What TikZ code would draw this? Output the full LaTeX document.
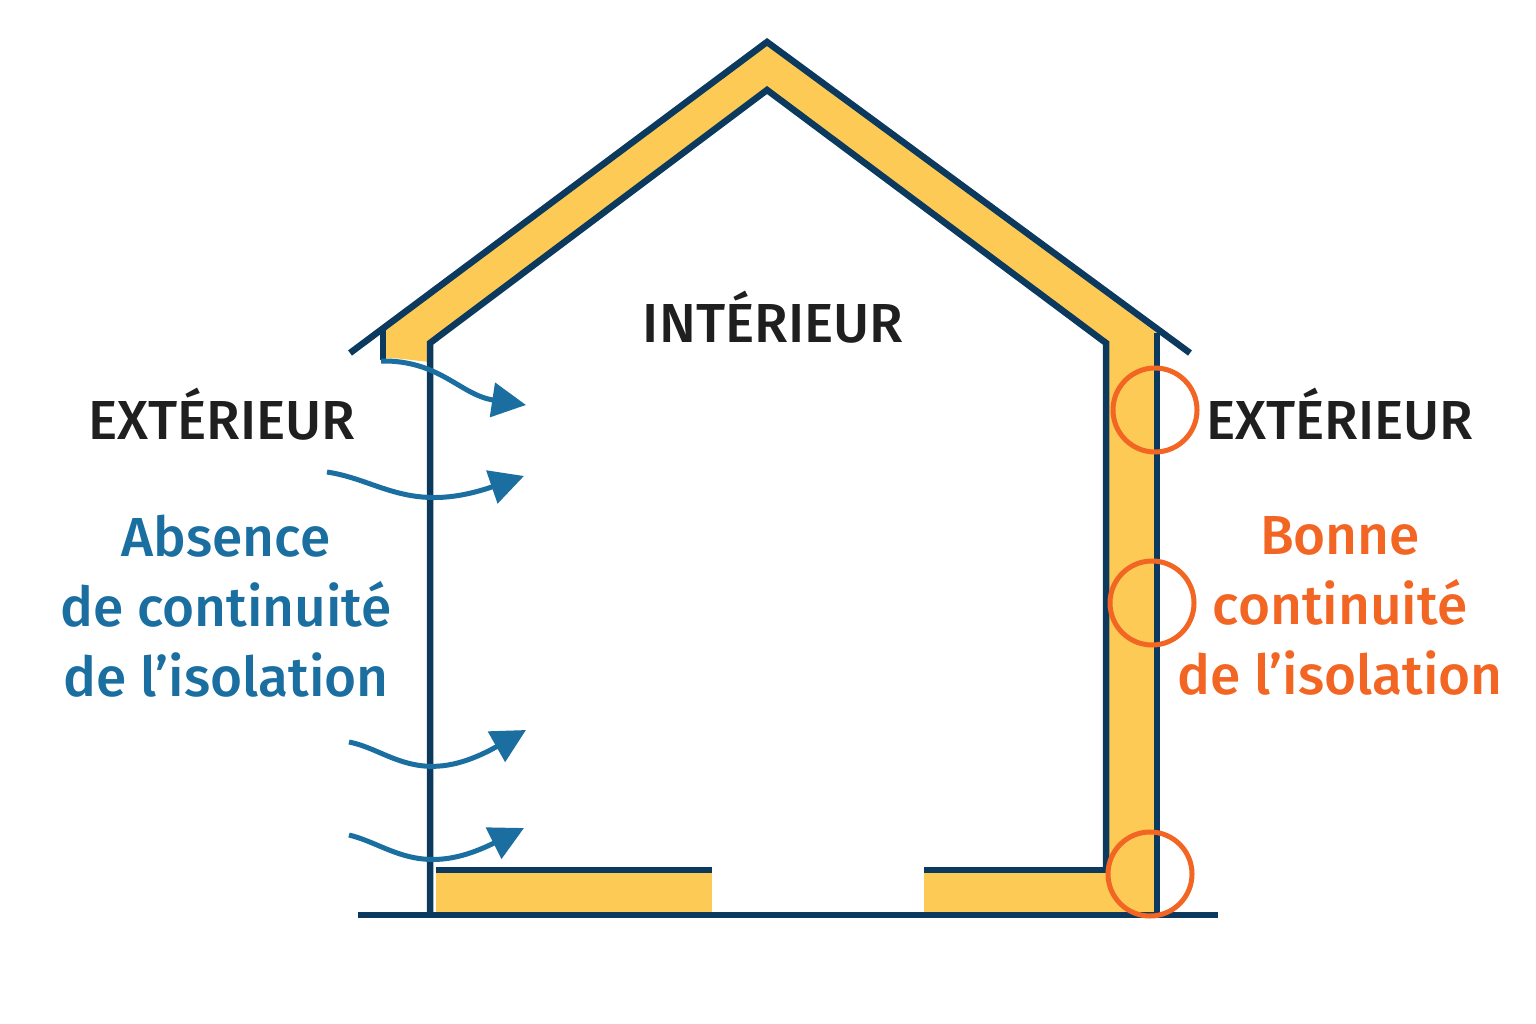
\documentclass[tikz,border=0pt]{standalone}
\usepackage{fontspec}
\setmainfont{Fira Sans}[UprightFont=* Medium]
\usetikzlibrary{arrows.meta}
\definecolor{navy}{HTML}{0B3A5E}
\definecolor{ins}{HTML}{FDCB55}
\definecolor{blu}{HTML}{1A6FA0}
\definecolor{ora}{HTML}{F26522}
\tikzset{wall/.style={draw=navy,line width=6.5pt},
 flow/.style={draw=blu,line width=5pt,-{Triangle[length=34pt,width=34pt]}},
 ring/.style={draw=ora,line width=5pt},
 lbl/.style={font=\fontsize{55}{62}\selectfont,align=center,inner sep=0pt}}
\begin{document}
\begin{tikzpicture}[x=1pt,y=-1pt]
\useasboundingbox (0,0) rectangle (1536,1024);
\fill[white] (0,0) rectangle (1536,1024);
% insulation
\fill[ins] (383,328)--(767,40)--(1157,333)--(1157,912)--(1106,912)--(1106,343)--(767,90)--(430,343)--(430,362) to[out=175,in=0] (383,358)--cycle;
\fill[ins] (436,872) rectangle (712,912);
\fill[ins] (924,872) rectangle (1106,912);
% walls
\draw[wall] (350,353)--(767,42)--(1190,353);
\draw[wall] (430,917)--(430,343)--(767,90)--(1106,343)--(1106,870);
\draw[wall] (383,330)--(383,360);
\draw[wall] (1157,333)--(1157,915);
\draw[wall] (436,870)--(712,870);
\draw[wall] (924,870)--(1106,870);
\draw[wall] (358,915)--(1218,915);
% arrows
\coordinate (a1) at (381,361); \coordinate (b1) at (526,405);
\coordinate (a2) at (327,472); \coordinate (b2) at (524,476);
\coordinate (a3) at (349,742); \coordinate (b3) at (526,730);
\coordinate (a4) at (349,835); \coordinate (b4) at (524,828);
\draw[flow] (a1) .. controls (440,360) and (460,395) .. (b1);
\draw[flow] (a2) .. controls (380,480) and (410,515) .. (b2);
\draw[flow] (a3) .. controls (390,750) and (420,790) .. (b3);
\draw[flow] (a4) .. controls (390,845) and (420,880) .. (b4);
% rings
\draw[ring] (1155,410) ellipse (42 and 42);
\draw[ring] (1152,603) ellipse (42 and 42);
\draw[ring] (1150,874) ellipse (42 and 42);
% labels
\node[lbl,text=black!88] (int) at (773,317) {INTÉRIEUR};
\node[lbl,text=black!88] (extl) at (222,414) {EXTÉRIEUR};
\node[lbl,text=black!88] (extr) at (1340,414) {EXTÉRIEUR};
\node[lbl,text=blu,font=\fontsize{55}{70}\selectfont] (abs) at (226,606) {Absence\\de continuité\\de l’isolation};
\node[lbl,text=ora,font=\fontsize{55}{70}\selectfont] (bon) at (1340,606) {Bonne\\continuité\\de l’isolation};
\end{tikzpicture}
\end{document}
